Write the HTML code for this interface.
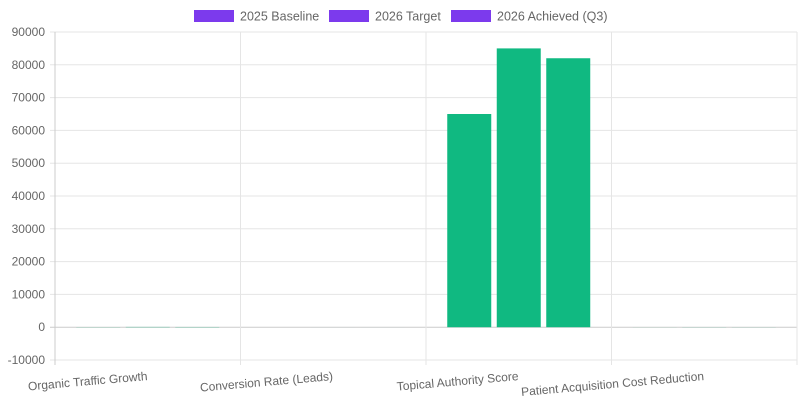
<!DOCTYPE html>
<html><head><meta charset="utf-8"><style>
body{margin:0;background:#fff;font-family:"Liberation Sans",sans-serif}
svg text{font-family:"Liberation Sans",sans-serif;fill:#666}
</style></head><body>
<svg id="c" width="800" height="400"></svg>
<script>
const categories=["Organic Traffic Growth","Conversion Rate (Leads)","Topical Authority Score","Patient Acquisition Cost Reduction"];
const seriesNames=["2025 Baseline","2026 Target","2026 Achieved (Q3)"];
const baseline=[40,2.1,65000,15];
const target=[80,4.5,85000,30];
const achieved=[65,3.8,82000,24];
const yTicks=[-10000,0,10000,20000,30000,40000,50000,60000,70000,80000,90000];
const NS="http://www.w3.org/2000/svg";
const svg=document.getElementById('c');
const L=55,R=797,T=32,B=360,yMin=-10000,yMax=90000;
const y=v=>B-(v-yMin)/(yMax-yMin)*(B-T);
const cw=(R-L)/categories.length;
const x=i=>L+i*cw;
function mk(t,a,p){const e=document.createElementNS(NS,t);for(const k in a)e.setAttribute(k,a[k]);(p||svg).appendChild(e);return e;}
yTicks.forEach(v=>{
 const g=mk('line',{x1:L-5,x2:R,y1:y(v),y2:y(v),stroke:v===0?'#ccc':'#e5e5e5','stroke-width':1});
 
 
 const t=mk('text',{x:L-10,y:y(v)+4,'text-anchor':'end','font-size':12});
 t.textContent=v;
 
 
});
for(let i=0;i<=categories.length;i++){
 const g=mk('line',{x1:x(i),x2:x(i),y1:T,y2:B+5,stroke:i===0?'#ccc':'#e5e5e5','stroke-width':1});
 
 
}
const data=[baseline,target,achieved];
const bw=44,gap=5.5,grp=3*bw+2*gap;
categories.forEach((c,i)=>{
 const cx=x(i)+cw/2;
 data.forEach((s,j)=>{
  const bx=cx-grp/2+j*(bw+gap);
  const y0=y(0),y1=y(s[i]);
  const r=mk('rect',{x:bx,y:Math.min(y0,y1),width:bw,height:Math.abs(y0-y1),fill:'#10b981'});
  
  
 });
 const t=mk('text',{x:cx,y:B+20,'text-anchor':'end','font-size':12,transform:`rotate(-5 ${cx} ${B+20})`});
 t.textContent=c;
 
 
});
const lx=[194,329,451];
seriesNames.forEach((n,j)=>{
 const r=mk('rect',{x:lx[j],y:10,width:40,height:12,fill:'#7c3aed'});
 
 
 const t=mk('text',{x:lx[j]+46,y:20.5,'font-size':12.5});
 t.textContent=n;
 
 
});
</script>
</body></html>
